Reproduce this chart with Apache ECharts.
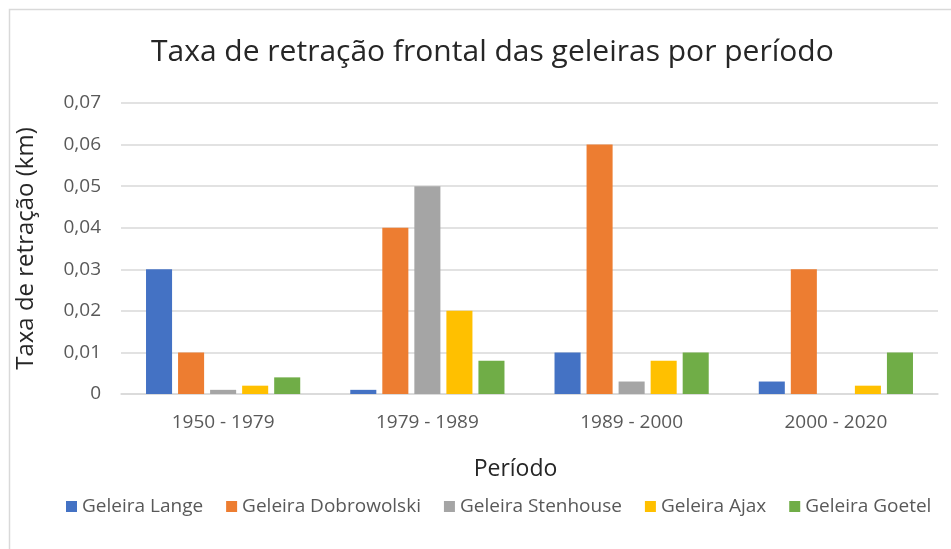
<!DOCTYPE html>
<html>
<head>
<meta charset="utf-8">
<script src="https://cdn.jsdelivr.net/npm/echarts@6/dist/echarts.min.js"></script>
<style>
  html, body { margin: 0; padding: 0; background: #fff; }
  #chart { width: 951px; height: 549px; }
</style>
</head>
<body>
<div id="chart"></div>
<script>
// Periods on the x axis
const periods = ['1950 - 1979', '1979 - 1989', '1989 - 2000', '2000 - 2020'];

// Frontal retreat rate per glacier (km)
const lange       = [0.03, 0.001, 0.01, 0.003];
const dobrowolski = [0.01, 0.04, 0.06, 0.03];
const stenhouse   = [0.001, 0.05, 0.003, 0];
const ajax        = [0.002, 0.02, 0.008, 0.002];
const goetel      = [0.004, 0.008, 0.01, 0.01];

const glacierNames = ['Geleira Lange', 'Geleira Dobrowolski', 'Geleira Stenhouse', 'Geleira Ajax', 'Geleira Goetel'];
const glacierData = [lange, dobrowolski, stenhouse, ajax, goetel];
const colors = ['#4472c4', '#ed7d31', '#a5a5a5', '#ffc000', '#70ad47'];

const FONT = 'Open Sans';

const chart = echarts.init(document.getElementById('chart'));
chart.setOption({
  animation: false,
  color: colors,
  textStyle: { fontFamily: FONT },
  graphic: [{
    type: 'rect',
    shape: { x: 9.5, y: 9.5, width: 1000, height: 1000 },
    style: { fill: 'none', stroke: '#d9d9d9', lineWidth: 1.5 },
    silent: true
  }],
  title: {
    text: 'Taxa de retração frontal das geleiras por período',
    left: 146,
    top: 32,
    textStyle: { fontFamily: FONT, fontSize: 30, fontWeight: 'normal', color: '#262626' }
  },
  legend: {
    bottom: 28,
    left: 61,
    icon: 'rect',
    itemWidth: 11,
    itemHeight: 11,
    itemGap: 23,
    textStyle: { fontFamily: FONT, fontSize: 19, color: '#595959' },
    data: glacierNames
  },
  grid: { left: 121, right: 13, top: 103, bottom: 155, containLabel: false },
  xAxis: {
    type: 'category',
    data: periods,
    name: 'Período',
    nameLocation: 'middle',
    nameGap: 64,
    nameTextStyle: { fontFamily: FONT, fontSize: 23, color: '#262626', padding: [0, 28, 0, 0] },
    axisLine: { lineStyle: { color: '#d9d9d9', width: 1.5 } },
    axisTick: { show: false },
    axisLabel: { fontFamily: FONT, fontSize: 19, color: '#595959', margin: 19 }
  },
  yAxis: {
    type: 'value',
    min: 0,
    max: 0.07,
    interval: 0.01,
    name: 'Taxa de retração (km)',
    nameLocation: 'middle',
    nameGap: 83,
    nameRotate: 90,
    nameTextStyle: { fontFamily: FONT, fontSize: 24, color: '#262626' },
    axisLine: { show: false },
    axisTick: { show: false },
    splitLine: { lineStyle: { color: '#d9d9d9', width: 1.5 } },
    axisLabel: {
      fontFamily: FONT, fontSize: 19, color: '#595959', margin: 20,
      formatter: v => v === 0 ? '0' : v.toFixed(2).replace('.', ',')
    }
  },
  series: glacierNames.map((name, i) => ({
    name: name,
    type: 'bar',
    data: glacierData[i],
    barGap: '23%',
    barCategoryGap: '24.5%',
    itemStyle: { color: colors[i] }
  }))
});
</script>
</body>
</html>
